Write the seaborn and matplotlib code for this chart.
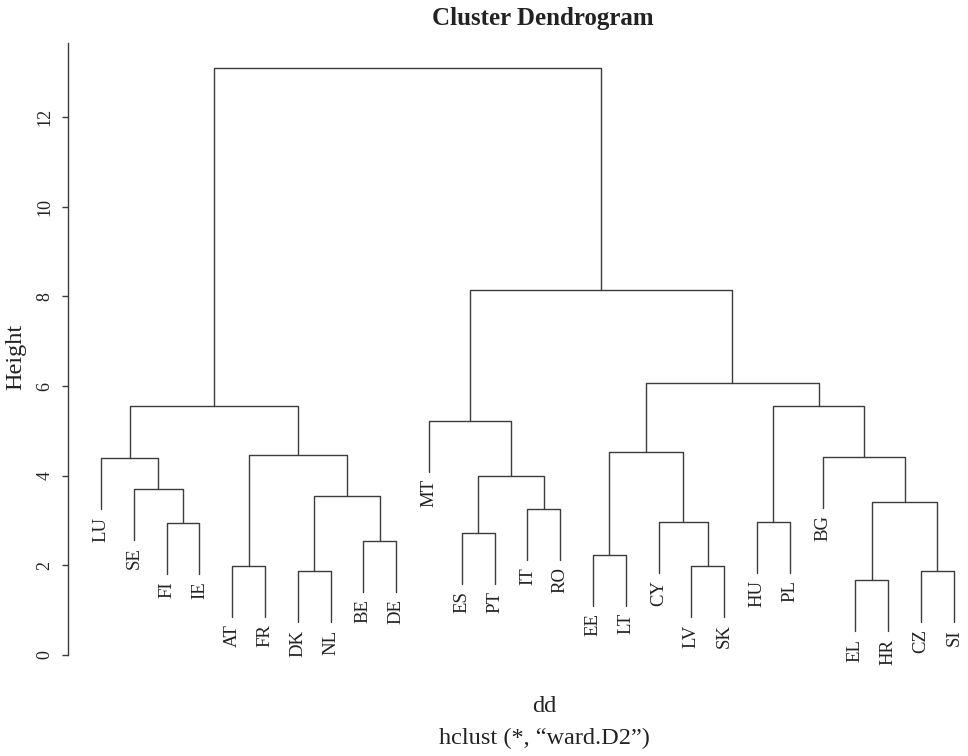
import matplotlib
matplotlib.use("Agg")
import matplotlib.pyplot as plt
import numpy as np
import pandas as pd
import seaborn as sns

# leaf order as drawn, left to right
leaves = ["LU", "SE", "FI", "IE", "AT", "FR", "DK", "NL", "BE", "DE",
          "MT", "ES", "PT", "IT", "RO", "EE", "LT", "CY", "LV", "SK",
          "HU", "PL", "BG", "EL", "HR", "CZ", "SI"]

# merge steps (hclust style): a string is a leaf, an int is an earlier merge
merge_left = ["EL", "DK", "CZ", "AT", "LV", "EE", "BE", "ES", "FI", "CY", "HU", "IT",
              0, 1, "SE", 7, "LU", "BG", 3, 5, "MT", 16, 10, 19, 20, 21]
merge_right = ["HR", "NL", "SI", "FR", "SK", "LT", "DE", "PT", "IE", 4, "PL", "RO",
               2, 6, 8, 11, 14, 12, 13, 9, 15, 18, 17, 22, 23, 24]
merge_height = [1.67, 1.87, 1.88, 1.98, 1.98, 2.24, 2.55, 2.73, 2.95, 2.97, 2.97, 3.26,
                3.42, 3.55, 3.70, 3.99, 4.39, 4.42, 4.47, 4.53, 5.22, 5.55, 5.55, 6.07,
                8.14, 13.09]

y_ticks = [0, 2, 4, 6, 8, 10, 12]

# ─────────────────────────────────────────────────────────────────────────────
# Build dendrogram segments
# ─────────────────────────────────────────────────────────────────────────────
hang = 0.1 * (max(merge_height) - min(merge_height))
leaf_x = {name: i + 1 for i, name in enumerate(leaves)}
leaf_end = {}
node_x = []
rows = []


def _child(ref, h):
    if isinstance(ref, str):
        leaf_end[ref] = h - hang
        return leaf_x[ref], h - hang
    return node_x[ref], merge_height[ref]


for k, (a, b, h) in enumerate(zip(merge_left, merge_right, merge_height)):
    xa, ya = _child(a, h)
    xb, yb = _child(b, h)
    node_x.append((xa + xb) / 2)
    for x, y in [(xa, ya), (xa, h), (xb, h), (xb, yb)]:
        rows.append({"seg": k, "x": x, "y": y})

segs = pd.DataFrame(rows)

# ─────────────────────────────────────────────────────────────────────────────
# Plot
# ─────────────────────────────────────────────────────────────────────────────
sns.set_style("ticks")
plt.rcParams["font.family"] = ["Liberation Serif", "DejaVu Serif"]

W, H = 968, 756
fig = plt.figure(figsize=(W / 100, H / 100), dpi=100)
ax = fig.add_axes([68 / W, 0, 900 / W, 1 - 43 / H])

line_col = "#3c3c3c"
sns.lineplot(data=segs, x="x", y="y", units="seg", estimator=None, sort=False,
             color=line_col, linewidth=1.0, ax=ax)

px_x = 32.8   # pixels per leaf
px_y = 44.83  # pixels per height unit
ax.set_xlim(1 - (101 - 68) / px_x, 1 + (W - 101) / px_x)
ymax = (655 - 43) / px_y
ax.set_ylim(-(H - 655) / px_y, ymax)

for name in leaves:
    ax.text(leaf_x[name], leaf_end[name] - 0.16, name, rotation=90,
            ha="center", va="top", fontsize=13.5, color="#222222")

sns.despine(ax=ax, bottom=True)
ax.spines["left"].set_bounds(0, ymax)
ax.spines["left"].set_color(line_col)
ax.spines["left"].set_linewidth(1.0)
ax.set_xticks([])
ax.set_yticks(y_ticks)
ax.set_yticklabels([str(t) for t in y_ticks], rotation=90, va="center")
ax.tick_params(axis="y", length=4.5, width=1.0, color=line_col, pad=6,
               labelsize=13, labelcolor="#222222")
ax.set_xlabel("")
ax.set_ylabel("")

fig.text(543 / W, 1 - 19 / H, "Cluster Dendrogram", ha="center", va="center",
         fontsize=18, fontweight="bold", color="#222222")
fig.text(16 / W, 1 - 357 / H, "Height", rotation=90, ha="center", va="center",
         fontsize=17.5, color="#222222")
fig.text(544 / W, 1 - 707 / H, "dd", ha="center", va="center",
         fontsize=17.5, color="#222222")
fig.text(544 / W, 1 - 738 / H, "hclust (*, \u201cward.D2\u201d)", ha="center",
         va="center", fontsize=17.5, color="#222222")

fig.savefig("out.png", dpi=100)
plt.close(fig)
